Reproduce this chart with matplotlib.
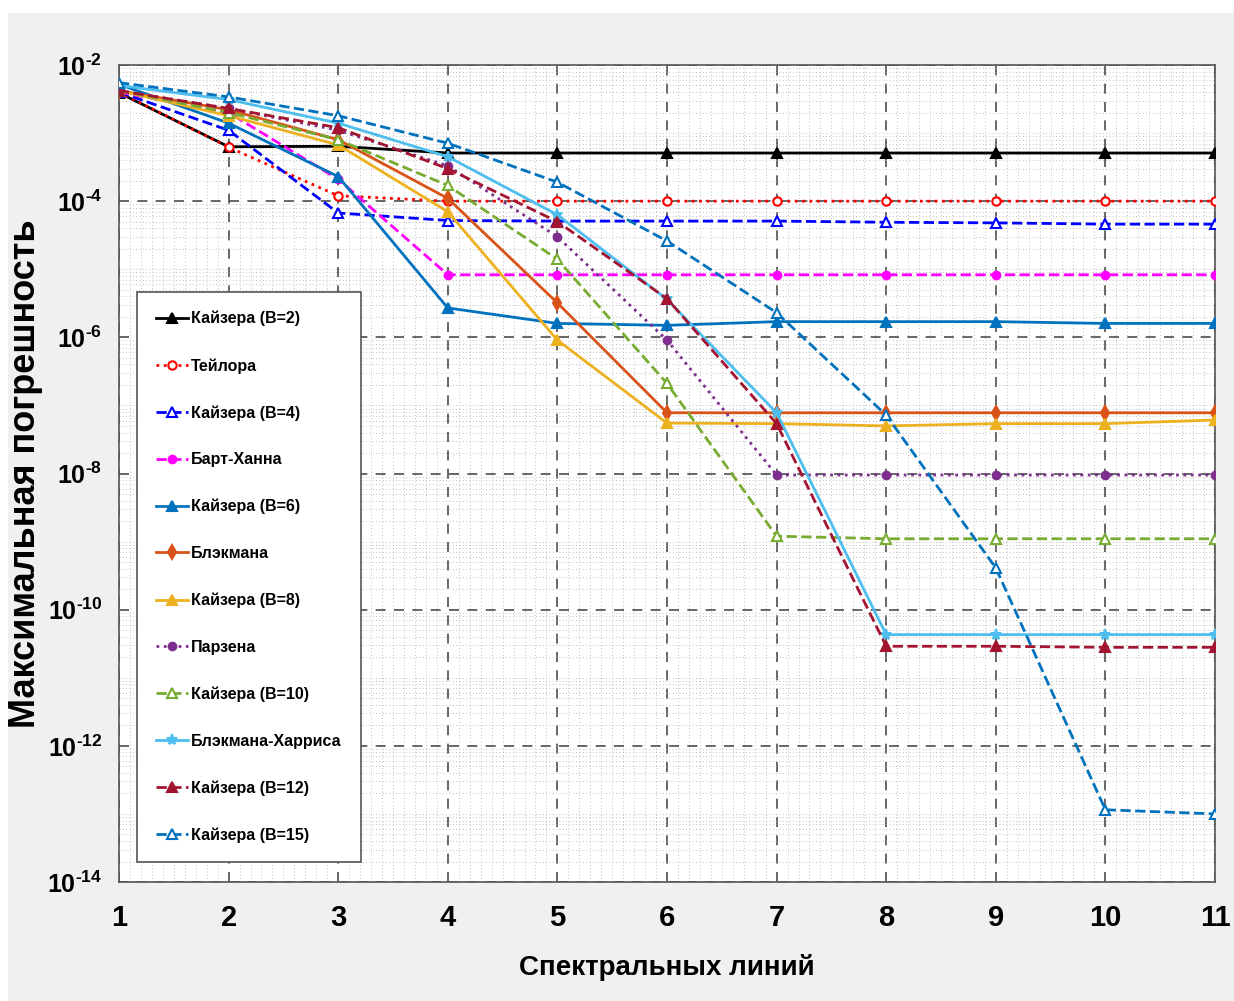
import numpy as np
import matplotlib
matplotlib.use("Agg")
import matplotlib.pyplot as plt
from matplotlib.patches import Rectangle
from matplotlib.ticker import FixedLocator, FixedFormatter, MultipleLocator

# --- data ---
x = np.arange(1, 12)

names = ["Кайзера (B=2)", "Тейлора", "Кайзера (B=4)", "Барт-Ханна", "Кайзера (B=6)",
         "Блэкмана", "Кайзера (B=8)", "Парзена", "Кайзера (B=10)",
         "Блэкмана-Харриса", "Кайзера (B=12)", "Кайзера (B=15)"]

kaiser2 = [3.9e-3, 6.3e-4, 6.4e-4, 5.1e-4, 5.1e-4, 5.1e-4, 5.1e-4, 5.1e-4, 5.1e-4, 5.1e-4, 5.1e-4]
taylor = [4.0e-3, 6.2e-4, 1.2e-4, 1.0e-4, 1.0e-4, 1.0e-4, 1.0e-4, 1.0e-4, 1.0e-4, 1.0e-4, 1.0e-4]
kaiser4 = [4.0e-3, 1.1e-3, 6.7e-5, 5.2e-5, 5.1e-5, 5.1e-5, 5.1e-5, 4.9e-5, 4.8e-5, 4.6e-5, 4.6e-5]
bart_hann = [4.0e-3, 2.0e-3, 2.1e-4, 8.3e-6, 8.3e-6, 8.3e-6, 8.3e-6, 8.3e-6, 8.3e-6, 8.3e-6, 8.3e-6]
kaiser6 = [5.2e-3, 1.4e-3, 2.3e-4, 2.7e-6, 1.6e-6, 1.5e-6, 1.7e-6, 1.7e-6, 1.7e-6, 1.6e-6, 1.6e-6]
blackman = [4.2e-3, 2.2e-3, 8.0e-4, 1.1e-4, 3.2e-6, 7.8e-8, 7.8e-8, 7.8e-8, 7.8e-8, 7.8e-8, 7.8e-8]
kaiser8 = [4.2e-3, 1.8e-3, 6.7e-4, 7.0e-5, 9.1e-7, 5.5e-8, 5.4e-8, 5.0e-8, 5.4e-8, 5.4e-8, 6.1e-8]
parzen = [4.2e-3, 2.3e-3, 1.1e-3, 3.3e-4, 3.0e-5, 9.1e-7, 9.5e-9, 9.5e-9, 9.5e-9, 9.5e-9, 9.5e-9]
kaiser10 = [4.2e-3, 2.0e-3, 8.0e-4, 1.7e-4, 1.4e-5, 2.1e-7, 1.2e-9, 1.1e-9, 1.1e-9, 1.1e-9, 1.1e-9]
blackman_harris = [5.0e-3, 3.1e-3, 1.4e-3, 4.5e-4, 6.3e-5, 3.6e-6, 7.8e-8, 4.3e-11, 4.3e-11, 4.3e-11, 4.3e-11]
kaiser12 = [4.2e-3, 2.3e-3, 1.2e-3, 3.0e-4, 5.0e-5, 3.7e-6, 5.4e-8, 2.9e-11, 2.9e-11, 2.8e-11, 2.8e-11]
kaiser15 = [5.5e-3, 3.4e-3, 1.8e-3, 7.1e-4, 1.9e-4, 2.6e-5, 2.3e-6, 7.2e-8, 4.1e-10, 1.15e-13, 1.0e-13]

series = [kaiser2, taylor, kaiser4, bart_hann, kaiser6, blackman, kaiser8,
          parzen, kaiser10, blackman_harris, kaiser12, kaiser15]

# style per series: color, linestyle, marker, filled, marker size
styles = [
    ("black", "-", "^", True, 7),
    ("#FF0000", ":", "o", False, 6),
    ("#0000FF", "--", "^", False, 7),
    ("#FF00FF", "--", "o", True, 5.5),
    ("#0072BD", "-", "^", True, 7),
    ("#D95319", "-", "d", True, 7),
    ("#EDB120", "-", "^", True, 7),
    ("#7E2F8E", ":", "o", True, 5.5),
    ("#77AC30", "--", "^", False, 7),
    ("#4DBEEE", "-", "*", True, 8),
    ("#A2142F", "--", "^", True, 7),
    ("#0072BD", "--", "^", False, 7),
]

ytick_pows = [-14, -12, -10, -8, -6, -4, -2]

plt.rcParams["font.family"] = ["Liberation Sans", "DejaVu Sans"]
plt.rcParams["font.weight"] = "bold"
plt.rcParams["mathtext.fontset"] = "custom"
plt.rcParams["mathtext.rm"] = "Liberation Sans:bold"
plt.rcParams["mathtext.bf"] = "Liberation Sans:bold"
plt.rcParams["mathtext.it"] = "Liberation Sans:bold"

fig = plt.figure(figsize=(12.34, 10.01), dpi=100, facecolor="#f0f0f0")
# white strip at top and left like the screenshot
fig.patches.append(Rectangle((0, 1 - 13 / 1001), 1, 13 / 1001, transform=fig.transFigure,
                             facecolor="white", edgecolor="none", zorder=-10))
fig.patches.append(Rectangle((0, 0), 8 / 1234, 1, transform=fig.transFigure,
                             facecolor="white", edgecolor="none", zorder=-10))

ax = fig.add_axes([119 / 1234, 1 - 882 / 1001, (1215 - 119) / 1234, (882 - 65) / 1001])
ax.set_facecolor("white")

for vals, name, (c, ls, m, filled, ms) in zip(series, names, styles):
    ax.plot(x, vals, color=c, linestyle=ls, linewidth=2.0, marker=m, markersize=ms,
            markerfacecolor=c if filled else "white", markeredgecolor=c,
            markeredgewidth=1.5, label=name, zorder=3)

ax.set_yscale("log")
ax.set_xlim(1, 11)
ax.set_ylim(1e-14, 1e-2)

ax.xaxis.set_major_locator(MultipleLocator(1))
ax.xaxis.set_minor_locator(MultipleLocator(0.1))
ax.yaxis.set_major_locator(FixedLocator([10.0 ** p for p in ytick_pows]))
ax.yaxis.set_major_formatter(FixedFormatter([r"$10^{\text{-}%d}$" % -p for p in ytick_pows]))
minor_y = [k * 10.0 ** d for d in range(-14, -2) for k in range(1, 10) if not (k == 1 and d % 2 == 0)]
ax.yaxis.set_minor_locator(FixedLocator(minor_y))
ax.yaxis.set_minor_formatter(FixedFormatter([""] * len(minor_y)))

ax.grid(True, which="major", linestyle=(0, (6, 5)), color="#4d4d4d", linewidth=1.2, zorder=1)
ax.grid(True, which="minor", linestyle=(0, (1, 3)), color="#ababab", linewidth=0.6, zorder=0)
ax.set_axisbelow(True)

ax.tick_params(axis="x", which="major", labelsize=21, length=0, pad=16)
ax.tick_params(axis="y", which="major", labelsize=18, length=0, pad=12)
ax.tick_params(axis="both", which="minor", length=0)
for sp in ax.spines.values():
    sp.set_color("#555555")
    sp.set_linewidth(1.2)

ax.set_xlabel("Спектральных линий", fontsize=20, fontweight="bold", labelpad=16)
ax.set_ylabel("Максимальная погрешность", fontsize=26, fontweight="bold")
ax.yaxis.set_label_coords(-0.069, 0.5)

leg = ax.legend(loc="lower left", bbox_to_anchor=(0.0164, 0.0245), fontsize=11.5,
                labelspacing=1.98, handlelength=2.0, handletextpad=0.2,
                borderpad=1.2, borderaxespad=0, frameon=True, fancybox=False, framealpha=1)
leg.get_frame().set_edgecolor("#555555")
leg.get_frame().set_linewidth(1.2)

fig.savefig("out.png", dpi=100, facecolor=fig.get_facecolor())
